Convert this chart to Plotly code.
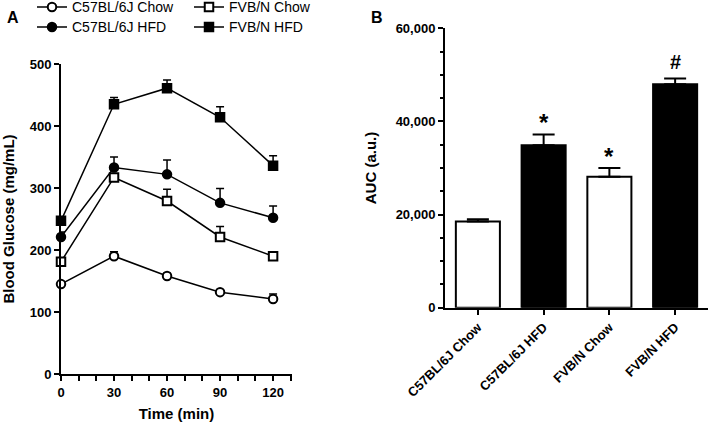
import plotly.graph_objects as go

# ---------- data ----------
time_min = [0, 30, 60, 90, 120]
c57_chow = [145, 190, 158, 132, 121]
c57_chow_err = [4, 7, 4, 4, 8]
c57_hfd = [221, 333, 322, 276, 252]
c57_hfd_err = [8, 17, 23, 23, 19]
fvb_chow = [181, 317, 279, 221, 190]
fvb_chow_err = [6, 6, 19, 17, 7]
fvb_hfd = [247, 435, 461, 414, 336]
fvb_hfd_err = [6, 11, 13, 17, 16]

groups = ["C57BL/6J Chow", "C57BL/6J HFD", "FVB/N Chow", "FVB/N HFD"]
auc = [18500, 34900, 28100, 48000]
auc_err = [500, 2300, 1900, 1250]
sig = ["", "*", "*", "#"]

FONT = "Arial, Liberation Sans, sans-serif"
fig = go.Figure()

series = [
    ("C57BL/6J Chow", c57_chow, c57_chow_err, "circle", "white", "legend"),
    ("C57BL/6J HFD", c57_hfd, c57_hfd_err, "circle", "black", "legend2"),
    ("FVB/N Chow", fvb_chow, fvb_chow_err, "square", "white", "legend3"),
    ("FVB/N HFD", fvb_hfd, fvb_hfd_err, "square", "black", "legend4"),
]
for name, vals, errs, sym, fill, leg in series:
    fig.add_trace(go.Scatter(
        x=time_min, y=vals, name=name, mode="lines+markers",
        line=dict(color="black", width=1.5),
        marker=dict(symbol=sym, size=8.5, color=fill, line=dict(color="black", width=2)),
        error_y=dict(type="data", symmetric=False, array=errs, arrayminus=[0] * len(errs),
                     color="black", thickness=1.5, width=4),
        cliponaxis=False, legend=leg, xaxis="x", yaxis="y",
    ))

fig.add_trace(go.Bar(
    x=groups, y=auc, width=0.67,
    marker=dict(color=["white", "black", "white", "black"], line=dict(color="black", width=2)),
    error_y=dict(type="data", symmetric=False, array=auc_err, arrayminus=[0] * 4,
                 color="black", thickness=2, width=11),
    showlegend=False, xaxis="x2", yaxis="y2", cliponaxis=False,
))

for g, v, e, s in zip(groups, auc, auc_err, sig):
    if s:
        fig.add_annotation(x=g, y=v + e, xref="x2", yref="y2", text=s, showarrow=False,
                           yanchor="middle", yshift=12 if s == "*" else 16,
                           font=dict(family=FONT, size=24 if s == "*" else 20, color="black", weight="bold"))

tickfont = dict(family=FONT, size=13, color="black", weight="bold")
titlefont = dict(family=FONT, size=15, color="black", weight="bold")
legfont = dict(family=FONT, size=14, color="black")

def leg(xpx, ypx):
    return dict(x=(xpx - 61) / 647, y=(374 - ypx) / 346, xanchor="left", yanchor="top",
                font=legfont, bgcolor="rgba(0,0,0,0)")

fig.update_layout(
    width=709, height=422,
    margin=dict(l=61, r=1, t=28, b=48, autoexpand=False),
    paper_bgcolor="white", plot_bgcolor="white",
    xaxis=dict(domain=[0, 231 / 647], range=[0, 130.7], tickvals=[0, 30, 60, 90, 120],
               showgrid=False, zeroline=False, showline=True, linecolor="black", linewidth=2,
               ticks="outside", ticklen=5, tickwidth=2, tickcolor="black", tickfont=tickfont,
               minor=dict(dtick=10, tick0=0, ticks="outside", ticklen=5, tickwidth=2, tickcolor="black", showgrid=False),
               title=dict(text="Time (min)", font=titlefont), anchor="y"),
    yaxis=dict(domain=[0, 0.896], range=[0, 500], dtick=100,
               showgrid=False, zeroline=False, showline=True, linecolor="black", linewidth=2,
               ticks="outside", ticklen=5, tickwidth=2, tickcolor="black", tickfont=tickfont,
               title=dict(text="Blood Glucose (mg/mL)", font=titlefont), anchor="x"),
    xaxis2=dict(domain=[384 / 647, 1.0], range=[-0.5, 3.5], type="category",
                showgrid=False, zeroline=False, showline=True, linecolor="black", linewidth=2,
                ticks="outside", ticklen=5, tickwidth=2, tickcolor="black", tickfont=tickfont,
                tickangle=-45, anchor="y2"),
    yaxis2=dict(domain=[66.3 / 346, 0.999], range=[0, 60000], dtick=20000, tickformat=",",
                showgrid=False, zeroline=False, showline=True, linecolor="black", linewidth=2,
                ticks="outside", ticklen=5, tickwidth=2, tickcolor="black", tickfont=tickfont,
                minor=dict(dtick=5000, ticks="outside", ticklen=3, tickwidth=2, tickcolor="black", showgrid=False),
                title=dict(text="AUC (a.u.)", font=titlefont), anchor="x2"),
    legend=leg(32, -8.6),
    legend2=leg(32, 11.4),
    legend3=leg(189, -8.6),
    legend4=leg(189, 11.4),
    showlegend=True,
)

fig.add_annotation(text="A", x=(13 - 61) / 647, y=(374 - 18) / 346, xref="paper", yref="paper",
                   showarrow=False, xanchor="center", yanchor="middle",
                   font=dict(family=FONT, size=16, color="black", weight="bold"))
fig.add_annotation(text="B", x=(377 - 61) / 647, y=(374 - 17) / 346, xref="paper", yref="paper",
                   showarrow=False, xanchor="center", yanchor="middle",
                   font=dict(family=FONT, size=16, color="black", weight="bold"))

fig.write_html("out.html", config={"displayModeBar": False},
               post_script="document.body.style.margin='0px';")
